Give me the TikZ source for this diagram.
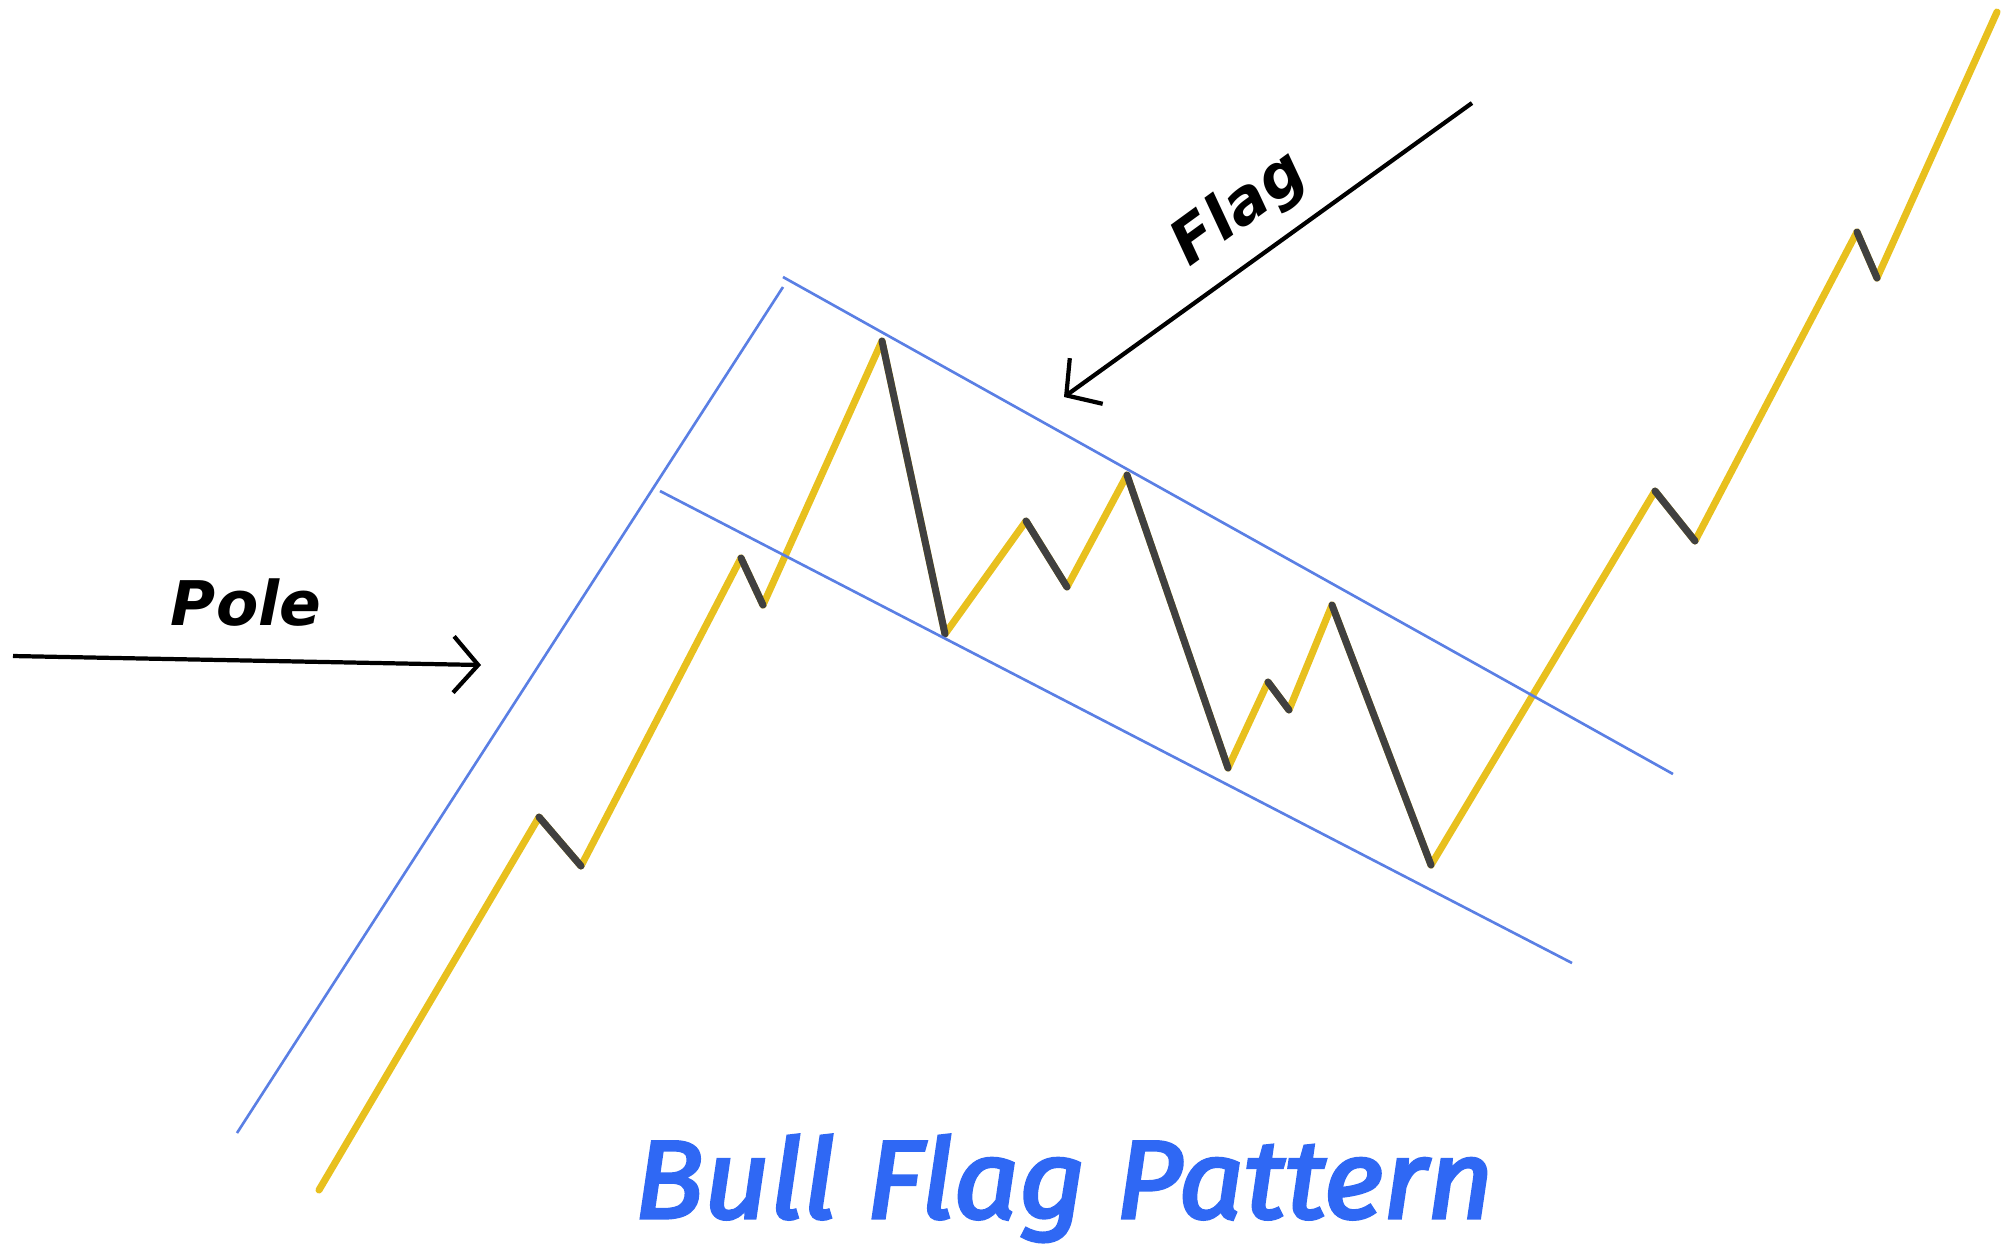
\documentclass[tikz,border=0pt]{standalone}
\usepackage{fontspec}
\usetikzlibrary{arrows.meta}
\newfontfamily\labelfont{DejaVu Sans}
\newfontfamily\titlefont{Fira Sans}[ItalicFeatures={FakeBold=3}]
\definecolor{upcol}{HTML}{E8C01E}
\definecolor{downcol}{HTML}{404040}
\definecolor{trendcol}{HTML}{5A7FE4}
\definecolor{titlecol}{HTML}{2F68F4}
\tikzset{
  upleg/.style={upcol, line width=2pt, line join=round, line cap=round},
  downleg/.style={downcol, line width=2pt, line cap=round},
  trendline/.style={trendcol, line width=0.75pt},
  pointer/.style={-{Straight Barb[length=7pt,width=16pt]}, line width=1.2pt},
  tag/.style={font=\labelfont\bfseries\itshape\fontsize{17.5}{19}\selectfont, inner sep=0pt},
}

\begin{document}
\begin{tikzpicture}[x=0.01cm,y=0.01cm]
\useasboundingbox (0,0) rectangle (2002,-1247);

% price path
\foreach \i/\px/\py in {0/319/1190,1/539/817,2/581/866,3/741/558,
  4/763/605,5/882/341,6/945/634,7/1026/521,8/1067/587,
  9/1127/475,10/1228/768,11/1268/682,12/1289/710,13/1332/605,
  14/1431/865,15/1655/491,16/1695/541,17/1857/232,18/1877/278,
  19/1997/12}
  \coordinate (p\i) at (\px,-\py);

\draw[upleg] (p0) \foreach \i in {1,...,19} { -- (p\i) };
\foreach \a/\b in {1/2,3/4,5/6,7/8,9/10,11/12,13/14,15/16,17/18}
  \draw[downleg] (p\a) -- (p\b);

% pole and flag lines
\coordinate (pole bottom) at (237,-1133);
\coordinate (pole top) at (783,-287);
\coordinate (flag top left) at (783,-277);
\coordinate (flag top right) at (1673,-774);
\coordinate (flag low left) at (660,-491);
\coordinate (flag low right) at (1572,-963);

\draw[trendline] (pole bottom) -- (pole top);
\draw[trendline] (flag top left) -- (flag top right);
\draw[trendline] (flag low left) -- (flag low right);

% labels
\node[tag, anchor=base] (pole) at (246,-625) {Pole};
\coordinate (pole tail) at (13,-656);
\coordinate (pole tip) at (481,-665);
\draw[pointer] (pole tail) -- (pole tip);

\node[tag, rotate=36] (flag) at (1240,-210) {Flag};
\coordinate (flag tail) at (1472,-103);
\coordinate (flag tip) at (1064,-397);
\draw[pointer] (flag tail) -- (flag tip);

\node[anchor=base, inner sep=0pt, text=titlecol,
  font=\titlefont\itshape\fontsize{31.5}{38}\selectfont] (title) at (1064,-1218)
  {\scalebox{1.04}[1]{Bull Flag Pattern}};
\end{tikzpicture}
\end{document}
